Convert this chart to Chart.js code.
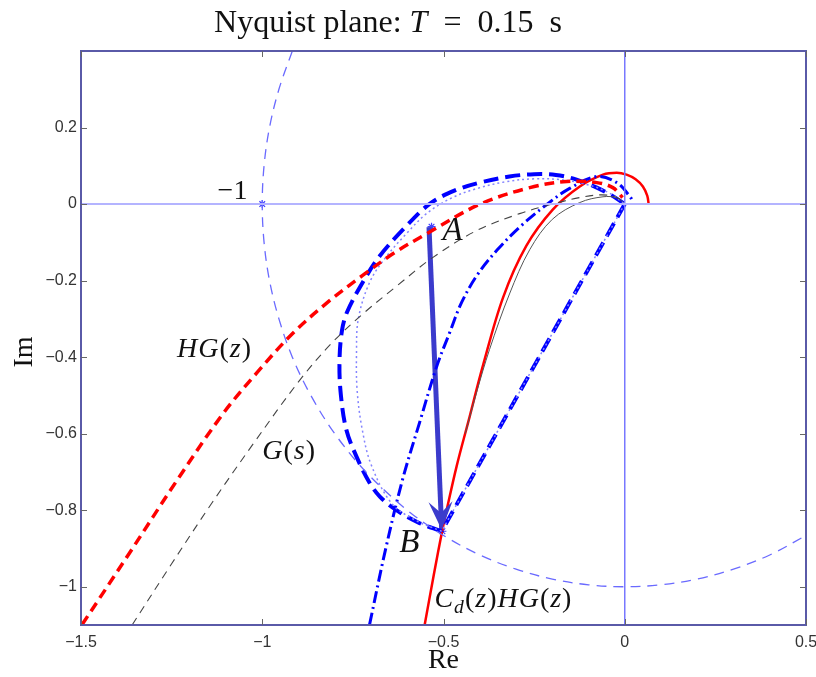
<!DOCTYPE html>
<html lang="en">
<head>
<meta charset="UTF-8">
<title>Nyquist plane</title>
<script src="https://cdn.jsdelivr.net/npm/chart.js"></script>
<style>
  html, body { margin: 0; padding: 0; background: #fff; }
  #wrap { width: 816px; height: 677px; }
</style>
</head>
<body>
<div id="wrap"><canvas id="nyquist" width="816" height="677"></canvas></div>
<script>
// axis ticks
const xTicks = [-1.5, -1, -0.5, 0, 0.5];
const xTickLabels = ['\u22121.5', '\u22121', '\u22120.5', '0', '0.5'];
const yTicks = [-1, -0.8, -0.6, -0.4, -0.2, 0, 0.2];
const yTickLabels = ['\u22121', '\u22120.8', '\u22120.6', '\u22120.4', '\u22120.2', '0', '0.2'];

// curves, [re, im]
const unitCircle = [[-0.917,0.4],[-0.954,0.3],[-0.98,0.2],[-0.995,0.1],[-1,0],[-0.995,-0.1],[-0.98,-0.2],
  [-0.954,-0.3],[-0.917,-0.4],[-0.866,-0.5],[-0.8,-0.6],[-0.714,-0.7],[-0.6,-0.8],[-0.5,-0.866],
  [-0.4,-0.917],[-0.3,-0.954],[-0.2,-0.98],[-0.1,-0.995],[0,-1],[0.1,-0.995],[0.2,-0.98],
  [0.3,-0.954],[0.4,-0.917],[0.5,-0.866]];
const hgZ = [[-1.497,-1.099],[-1.367,-0.913],[-1.238,-0.726],[-1.11,-0.55],[-1.014,-0.44],
  [-0.917,-0.339],[-0.82,-0.257],[-0.724,-0.187],[-0.635,-0.127],[-0.547,-0.078],[-0.401,-0.001],
  [-0.262,0.043],[-0.16,0.059],[-0.077,0.056],[-0.033,0.043],[-0.006,0.017]];
const gS = [[-1.359,-1.1],[-1.25,-0.94],[-1.138,-0.78],[-1.02,-0.62],[-0.898,-0.462],[-0.807,-0.362],
  [-0.72,-0.285],[-0.63,-0.215],[-0.53,-0.14],[-0.41,-0.07],[-0.29,-0.025],[-0.2,0.0],
  [-0.124,0.017],[-0.069,0.024],[-0.03,0.02],[-0.005,0.008]];
const gDiscrete = [[-0.44,-0.6],[-0.409,-0.493],[-0.373,-0.38],[-0.318,-0.235],[-0.262,-0.119],
  [-0.2,-0.04],[-0.124,0.004],[-0.06,0.019],[-0.02,0.016],[0,0]];
const cdHgZ = [[-0.552,-1.1],[-0.527,-0.97],[-0.503,-0.851],[-0.489,-0.79],[-0.464,-0.686],
  [-0.428,-0.556],[-0.392,-0.425],[-0.336,-0.245],[-0.272,-0.11],[-0.198,-0.014],[-0.124,0.046],
  [-0.06,0.077],[-0.022,0.082],[0.005,0.077],[0.03,0.065],[0.05,0.046],[0.062,0.022],[0.066,0.0]];
const dashDot = [[-0.704,-1.099],[-0.66,-0.903],[-0.613,-0.72],[-0.566,-0.571],[-0.519,-0.425],
  [-0.483,-0.336],[-0.45,-0.257],[-0.406,-0.184],[-0.351,-0.119],[-0.285,-0.056],[-0.215,-0.001],
  [-0.152,0.041],[-0.077,0.072],[-0.022,0.056],[0.014,0.02],[0.022,0.007]];
const regionArc = [[-0.505,-0.855],[-0.57,-0.832],[-0.63,-0.80],[-0.675,-0.765],[-0.704,-0.728],
  [-0.74,-0.66],[-0.768,-0.59],[-0.783,-0.5],[-0.787,-0.414],[-0.78,-0.33],[-0.765,-0.28],
  [-0.72,-0.2],[-0.677,-0.137],[-0.61,-0.065],[-0.539,0.0],[-0.47,0.035],[-0.40,0.056],
  [-0.318,0.072],[-0.25,0.078],[-0.19,0.076],[-0.133,0.064],[-0.077,0.043],[-0.035,0.022],[0,0]];
const regionChord = [[0,0],[-0.505,-0.855]];
const dottedArc = [[-0.505,-0.855],[-0.58,-0.825],[-0.645,-0.78],[-0.70,-0.68],[-0.724,-0.59],
  [-0.738,-0.49],[-0.74,-0.39],[-0.735,-0.3],[-0.704,-0.205],[-0.66,-0.14],[-0.60,-0.075],
  [-0.547,-0.025],[-0.48,0.015],[-0.41,0.04],[-0.33,0.058],[-0.25,0.066],[-0.17,0.063],
  [-0.1,0.05],[-0.045,0.03],[0,0]];
const arrowAB = [[-0.54,-0.06],[-0.505,-0.851]];
const markers = [[-1,0],[-0.533,-0.059],[-0.503,-0.855]];
const realAxis = [[-1.5,0],[0.5,0]];
const imagAxis = [[0,-1.1],[0,0.4]];

// text labels: anchor in data units
const notes = [
  { at: [-1.041, 0.012], align: 'right', size: 28, parts: [['\u22121', false]] },
  { at: [-0.503, -0.093], size: 33, parts: [['A', true]] },
  { at: [-0.622, -0.908], size: 33, parts: [['B', true]] },
  { at: [-1.235, -0.399], size: 28, gap: 1, parts: [['HG', true], ['(', false], ['z', true], [')', false]] },
  { at: [-1.0, -0.665], size: 28, gap: 1, parts: [['G', true], ['(', false], ['s', true], [')', false]] },
  { at: [-0.525, -1.052], size: 28, gap: 1, parts: [['C', true], ['d', true, 'sub'], ['(', false], ['z', true],
      [')', false], ['HG', true], ['(', false], ['z', true], [')', false]] }
];

const pts = a => a.map(([x, y]) => ({ x, y }));
const SERIF = '"Liberation Serif", "DejaVu Serif", serif';

function line(data, color, width, dash, tension) {
  return {
    data: pts(data), showLine: true, borderColor: color, borderWidth: width,
    borderDash: dash || [], pointRadius: 0, tension: tension === undefined ? 0.35 : tension,
    clip: 0, fill: false
  };
}

function drawParts(ctx, parts, x, y, size, align, gap) {
  const fontFor = (it, sub) => (it ? 'italic ' : '') + (sub ? size * 0.7 : size) + 'px ' + SERIF;
  ctx.letterSpacing = (gap || 0) + 'px';
  let total = 0;
  parts.forEach(p => { ctx.font = fontFor(p[1], p[2]); total += ctx.measureText(p[0]).width; });
  let cx = align === 'right' ? x - total : (align === 'center' ? x - total / 2 : x);
  ctx.textAlign = 'left';
  ctx.textBaseline = 'alphabetic';
  parts.forEach(p => {
    ctx.font = fontFor(p[1], p[2]);
    ctx.fillText(p[0], cx, p[2] ? y + size * 0.22 : y);
    cx += ctx.measureText(p[0]).width;
  });
  ctx.letterSpacing = '0px';
}

const decor = {
  id: 'decor',
  afterDatasetsDraw(chart) {
    const { ctx, chartArea: a, scales: { x, y } } = chart;
    ctx.save();
    // arrow head at B
    const x0 = x.getPixelForValue(arrowAB[0][0]), y0 = y.getPixelForValue(arrowAB[0][1]);
    const x1 = x.getPixelForValue(arrowAB[1][0]), y1 = y.getPixelForValue(arrowAB[1][1]);
    const len = Math.hypot(x1 - x0, y1 - y0), ux = (x1 - x0) / len, uy = (y1 - y0) / len;
    const hl = 28, hw = 12;
    ctx.fillStyle = '#3b3bcc';
    ctx.beginPath();
    ctx.moveTo(x1, y1);
    ctx.lineTo(x1 - ux * hl - uy * hw, y1 - uy * hl + ux * hw);
    ctx.lineTo(x1 - ux * hl * 0.6, y1 - uy * hl * 0.6);
    ctx.lineTo(x1 - ux * hl + uy * hw, y1 - uy * hl - ux * hw);
    ctx.closePath();
    ctx.fill();

    // frame and inner tick marks
    ctx.strokeStyle = '#5a5aa8';
    ctx.lineWidth = 2;
    ctx.strokeRect(a.left, a.top, a.right - a.left, a.bottom - a.top);
    ctx.strokeStyle = '#666';
    ctx.lineWidth = 1;
    ctx.beginPath();
    xTicks.forEach(v => {
      const px = Math.round(x.getPixelForValue(v)) + 0.5;
      ctx.moveTo(px, a.bottom); ctx.lineTo(px, a.bottom - 6);
      ctx.moveTo(px, a.top); ctx.lineTo(px, a.top + 6);
    });
    yTicks.forEach(v => {
      const py = Math.round(y.getPixelForValue(v)) + 0.5;
      ctx.moveTo(a.left, py); ctx.lineTo(a.left + 6, py);
      ctx.moveTo(a.right, py); ctx.lineTo(a.right - 6, py);
    });
    ctx.stroke();

    // annotations
    ctx.fillStyle = '#111';
    notes.forEach(n => {
      drawParts(ctx, n.parts, x.getPixelForValue(n.at[0]), y.getPixelForValue(n.at[1]), n.size, n.align, n.gap);
    });

    // title with italic T
    drawParts(ctx, [['Nyquist plane: ', false], ['T', true], ['\u2002=\u20020.15\u2002s', false]], 388, 32, 32, 'center');
    ctx.restore();
  }
};

new Chart(document.getElementById('nyquist'), {
  type: 'scatter',
  data: {
    datasets: [
      line(realAxis, '#b4b4ff', 2, [], 0),
      line(imagAxis, '#7878ff', 1.5, [], 0),
      line(unitCircle, '#6a6aff', 1.3, [10, 7]),
      line(gS, '#444', 1.1, [8, 6]),
      line(hgZ, '#ff0000', 3.5, [10, 6]),
      line(dottedArc, '#8484ff', 1.5, [2, 3]),
      line(regionChord, '#8484ff', 1.5, [2, 3], 0),
      line(gDiscrete, '#555', 1, []),
      line(dashDot, '#0000ff', 3, [12, 4, 2, 4]),
      line(regionArc, '#0000ff', 4, [15, 7]),
      line(regionChord, '#0000ff', 4, [15, 7], 0),
      line(cdHgZ, '#ff0000', 2.5, []),
      line(arrowAB, '#3b3bcc', 5, [], 0),
      {
        data: pts(markers), showLine: false, pointStyle: 'star', pointRadius: 4,
        borderColor: '#4040ff', borderWidth: 1.2, backgroundColor: '#4040ff', clip: 0
      }
    ]
  },
  options: {
    responsive: false,
    animation: false,
    devicePixelRatio: 1,
    layout: { padding: { top: 51, right: 10, left: 0, bottom: 0 } },
    plugins: { legend: { display: false }, tooltip: { enabled: false }, title: { display: false } },
    scales: {
      x: {
        type: 'linear', min: -1.5, max: 0.5,
        grid: { display: false, drawTicks: false },
        border: { display: false },
        afterBuildTicks: s => { s.ticks = xTicks.map(v => ({ value: v })); },
        afterFit: s => { s.height = 52; s.paddingLeft = 0; s.paddingRight = 0; },
        ticks: {
          padding: 8, color: '#333', font: { family: '"Liberation Sans", Arial, sans-serif', size: 16 },
          maxRotation: 0, callback: (v) => xTickLabels[xTicks.indexOf(v)]
        },
        title: { display: true, text: 'Re', color: '#111', padding: { top: 0, bottom: 2 },
          font: { family: SERIF, size: 28, lineHeight: 1 } }
      },
      y: {
        type: 'linear', min: -1.1, max: 0.4,
        grid: { display: false, drawTicks: false },
        border: { display: false },
        afterBuildTicks: s => { s.ticks = yTicks.map(v => ({ value: v })); },
        afterFit: s => { s.width = 81; s.paddingTop = 0; s.paddingBottom = 0; },
        ticks: {
          padding: 4, color: '#333', font: { family: '"Liberation Sans", Arial, sans-serif', size: 16 },
          callback: (v) => yTickLabels[yTicks.indexOf(v)]
        },
        title: { display: true, text: 'Im\u2002\u2002', color: '#111', padding: { top: 11, bottom: 0 },
          font: { family: SERIF, size: 28, lineHeight: 1 } }
      }
    }
  },
  plugins: [decor]
});
</script>
</body>
</html>
